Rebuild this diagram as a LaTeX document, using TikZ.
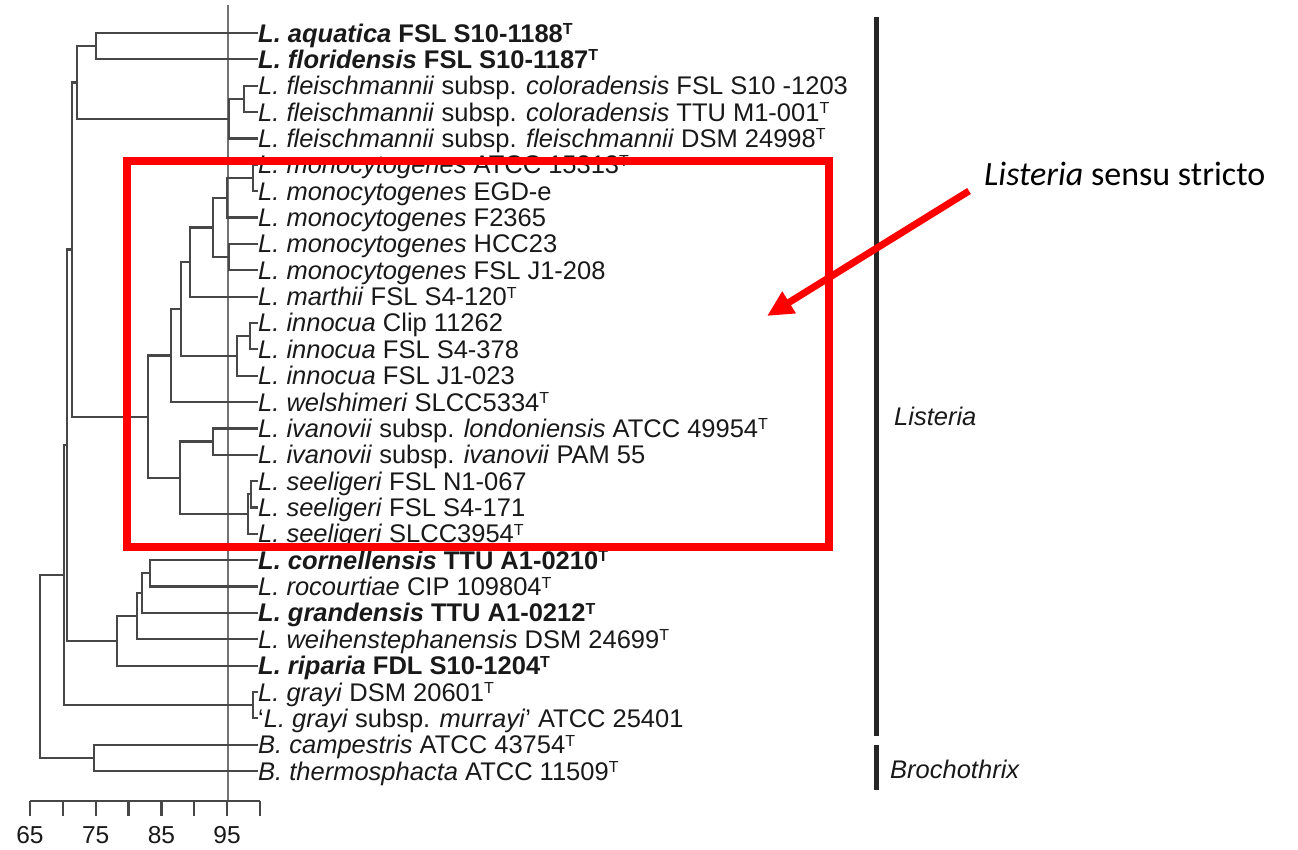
\documentclass[tikz,border=0pt]{standalone}
\usepackage{fontspec}
\setmainfont{Liberation Sans}
\newfontfamily\calib{Carlito}
\usetikzlibrary{arrows.meta}
\newcommand\Tsup{\raisebox{7.5pt}{\fontsize{16}{16}\selectfont T}}
\newcommand\leafnode[3]{%
  \coordinate (t#1) at (258,#2);
  \node[leaf] (L#1) at ([yshift=-9pt]t#1) {#3};}
\begin{document}
\begin{tikzpicture}[x=1pt,y=-1pt,
  br/.style={draw=black!72, line width=2.2pt},
  leaf/.style={anchor=base west, inner sep=0pt, font=\fontsize{25.5}{27}\selectfont, text=black!90},
  grp/.style={anchor=base west, inner sep=0pt, font=\itshape\fontsize{25.5}{27}\selectfont, text=black!90},
  axl/.style={anchor=base, inner sep=0pt, font=\fontsize{24.5}{26}\selectfont, text=black!90}]
\useasboundingbox (0,0) rectangle (1298,849);
\fill[white] (0,0) rectangle (1298,849);

% reference line at 95
\draw[black!55, line width=1.4pt] (228,5) -- (228,801);

% leaves
\leafnode{1}{33}{\textbf{\textit{L. aquatica} FSL S10-1188\Tsup}}
\leafnode{2}{59.36}{\textbf{\textit{L. floridensis} FSL S10-1187\Tsup}}
\leafnode{3}{85.72}{\textit{L. fleischmannii} subsp. \textit{coloradensis} FSL S10 -1203}
\leafnode{4}{112.08}{\textit{L. fleischmannii} subsp. \textit{coloradensis} TTU M1-001\Tsup}
\leafnode{5}{138.44}{\textit{L. fleischmannii} subsp. \textit{fleischmannii} DSM 24998\Tsup}
\leafnode{6}{164.8}{\textit{L. monocytogenes} ATCC 15313\Tsup}
\leafnode{7}{191.16}{\textit{L. monocytogenes} EGD-e}
\leafnode{8}{217.52}{\textit{L. monocytogenes} F2365}
\leafnode{9}{243.88}{\textit{L. monocytogenes} HCC23}
\leafnode{10}{270.24}{\textit{L. monocytogenes} FSL J1-208}
\leafnode{11}{296.6}{\textit{L. marthii} FSL S4-120\Tsup}
\leafnode{12}{322.96}{\textit{L. innocua} Clip 11262}
\leafnode{13}{349.32}{\textit{L. innocua} FSL S4-378}
\leafnode{14}{375.68}{\textit{L. innocua} FSL J1-023}
\leafnode{15}{402.04}{\textit{L. welshimeri} SLCC5334\Tsup}
\leafnode{16}{428.4}{\textit{L. ivanovii} subsp. \textit{londoniensis} ATCC 49954\Tsup}
\leafnode{17}{454.76}{\textit{L. ivanovii} subsp. \textit{ivanovii} PAM 55}
\leafnode{18}{481.12}{\textit{L. seeligeri} FSL N1-067}
\leafnode{19}{507.48}{\textit{L. seeligeri} FSL S4-171}
\leafnode{20}{533.84}{\textit{L. seeligeri} SLCC3954\Tsup}
\leafnode{21}{560.2}{\textbf{\textit{L. cornellensis} TTU A1-0210\Tsup}}
\leafnode{22}{586.56}{\textit{L. rocourtiae} CIP 109804\Tsup}
\leafnode{23}{612.92}{\textbf{\textit{L. grandensis} TTU A1-0212\Tsup}}
\leafnode{24}{639.28}{\textit{L. weihenstephanensis} DSM 24699\Tsup}
\leafnode{25}{665.64}{\textbf{\textit{L. riparia} FDL S10-1204\Tsup}}
\leafnode{26}{692}{\textit{L. grayi} DSM 20601\Tsup}
\leafnode{27}{718.36}{‘\textit{L. grayi} subsp. \textit{murrayi}’ ATCC 25401}
\leafnode{28}{744.72}{\textit{B. campestris} ATCC 43754\Tsup}
\leafnode{29}{771.08}{\textit{B. thermosphacta} ATCC 11509\Tsup}

% internal nodes
\coordinate (aqfl) at (96,46.18);
\coordinate (fc) at (244,98.9);
\coordinate (fl) at (229,118.67);
\coordinate (up) at (77,82.43);
\coordinate (m1) at (253,177.98);
\coordinate (m2) at (227,197.75);
\coordinate (m3) at (229,257.06);
\coordinate (m4) at (213,227.4);
\coordinate (m5) at (190,262.0);
\coordinate (i1) at (250,336.14);
\coordinate (i2) at (237,355.91);
\coordinate (m6) at (181,308.96);
\coordinate (m7) at (171,355.5);
\coordinate (iv) at (213,441.58);
\coordinate (s1) at (251,494.3);
\coordinate (s2) at (248,514.07);
\coordinate (s3) at (180,477.8);
\coordinate (ss) at (148,416.67);
\coordinate (nA) at (72,249.55);
\coordinate (c1) at (150,573.38);
\coordinate (c2) at (142,593.15);
\coordinate (c3) at (137,616.2);
\coordinate (c4) at (117,640.9);
\coordinate (nB) at (67,445.2);
\coordinate (g) at (253,705.18);
\coordinate (nC) at (64,575.2);
\coordinate (bro) at (94,757.9);
\coordinate (nD) at (40,666.55);

% branches
\draw[br] (t1) -| (aqfl) |- (t2);
\draw[br] (t3) -| (fc) |- (t4);
\draw[br] (fc) -| (fl) |- (t5);
\draw[br] (aqfl) -| (up) |- (fl);
\draw[br] (t6) -| (m1) |- (t7);
\draw[br] (m1) -| (m2) |- (t8);
\draw[br] (t9) -| (m3) |- (t10);
\draw[br] (m2) -| (m4) |- (m3);
\draw[br] (m4) -| (m5) |- (t11);
\draw[br] (t12) -| (i1) |- (t13);
\draw[br] (i1) -| (i2) |- (t14);
\draw[br] (m5) -| (m6) |- (i2);
\draw[br] (m6) -| (m7) |- (t15);
\draw[br] (t16) -| (iv) |- (t17);
\draw[br] (t18) -| (s1) |- (t19);
\draw[br] (s1) -| (s2) |- (t20);
\draw[br] (iv) -| (s3) |- (s2);
\draw[br] (m7) -| (ss) |- (s3);
\draw[br] (up) -| (nA) |- (ss);
\draw[br] (t21) -| (c1) |- (t22);
\draw[br] (c1) -| (c2) |- (t23);
\draw[br] (c2) -| (c3) |- (t24);
\draw[br] (c3) -| (c4) |- (t25);
\draw[br] (nA) -| (nB) |- (c4);
\draw[br] (t26) -| (g) |- (t27);
\draw[br] (nB) -| (nC) |- (g);
\draw[br] (t28) -| (bro) |- (t29);
\draw[br] (nC) -| (nD) |- (bro);

% scale axis
\coordinate (ax0) at (30,801);
\coordinate (ax1) at (260,801);
\draw[br] (ax0) -- (ax1);
\foreach \k in {0,...,7} \draw[br] ({30+\k*32.857},801) -- ++(0,15);
\node[axl] (a65) at (30,843.5) {65};
\node[axl] (a75) at (95.7,843.5) {75};
\node[axl] (a85) at (161.4,843.5) {85};
\node[axl] (a95) at (227.1,843.5) {95};

% group bars
\draw[black!85, line width=5pt] (876,17) -- (876,736);
\draw[black!85, line width=5pt] (876,745) -- (876,790);
\node[grp] (gL) at (894,425) {Listeria};
\node[grp] (gB) at (890,778) {Brochothrix};

% highlight box and arrow
\node[draw=red, line width=8pt, minimum width=702pt, minimum height=386pt, inner sep=0pt] (box) at (478,354) {};
\node[anchor=base west, inner sep=0pt, font=\calib\fontsize{34}{36}\selectfont] (lss) at (984,185) {\textit{Listeria} sensu stricto};
\coordinate (as) at (969,191);
\coordinate (ae) at (767,316);
\draw[red, line width=7pt, -{Triangle[length=26pt,width=24pt]}] (as) -- (ae);
\end{tikzpicture}
\end{document}
